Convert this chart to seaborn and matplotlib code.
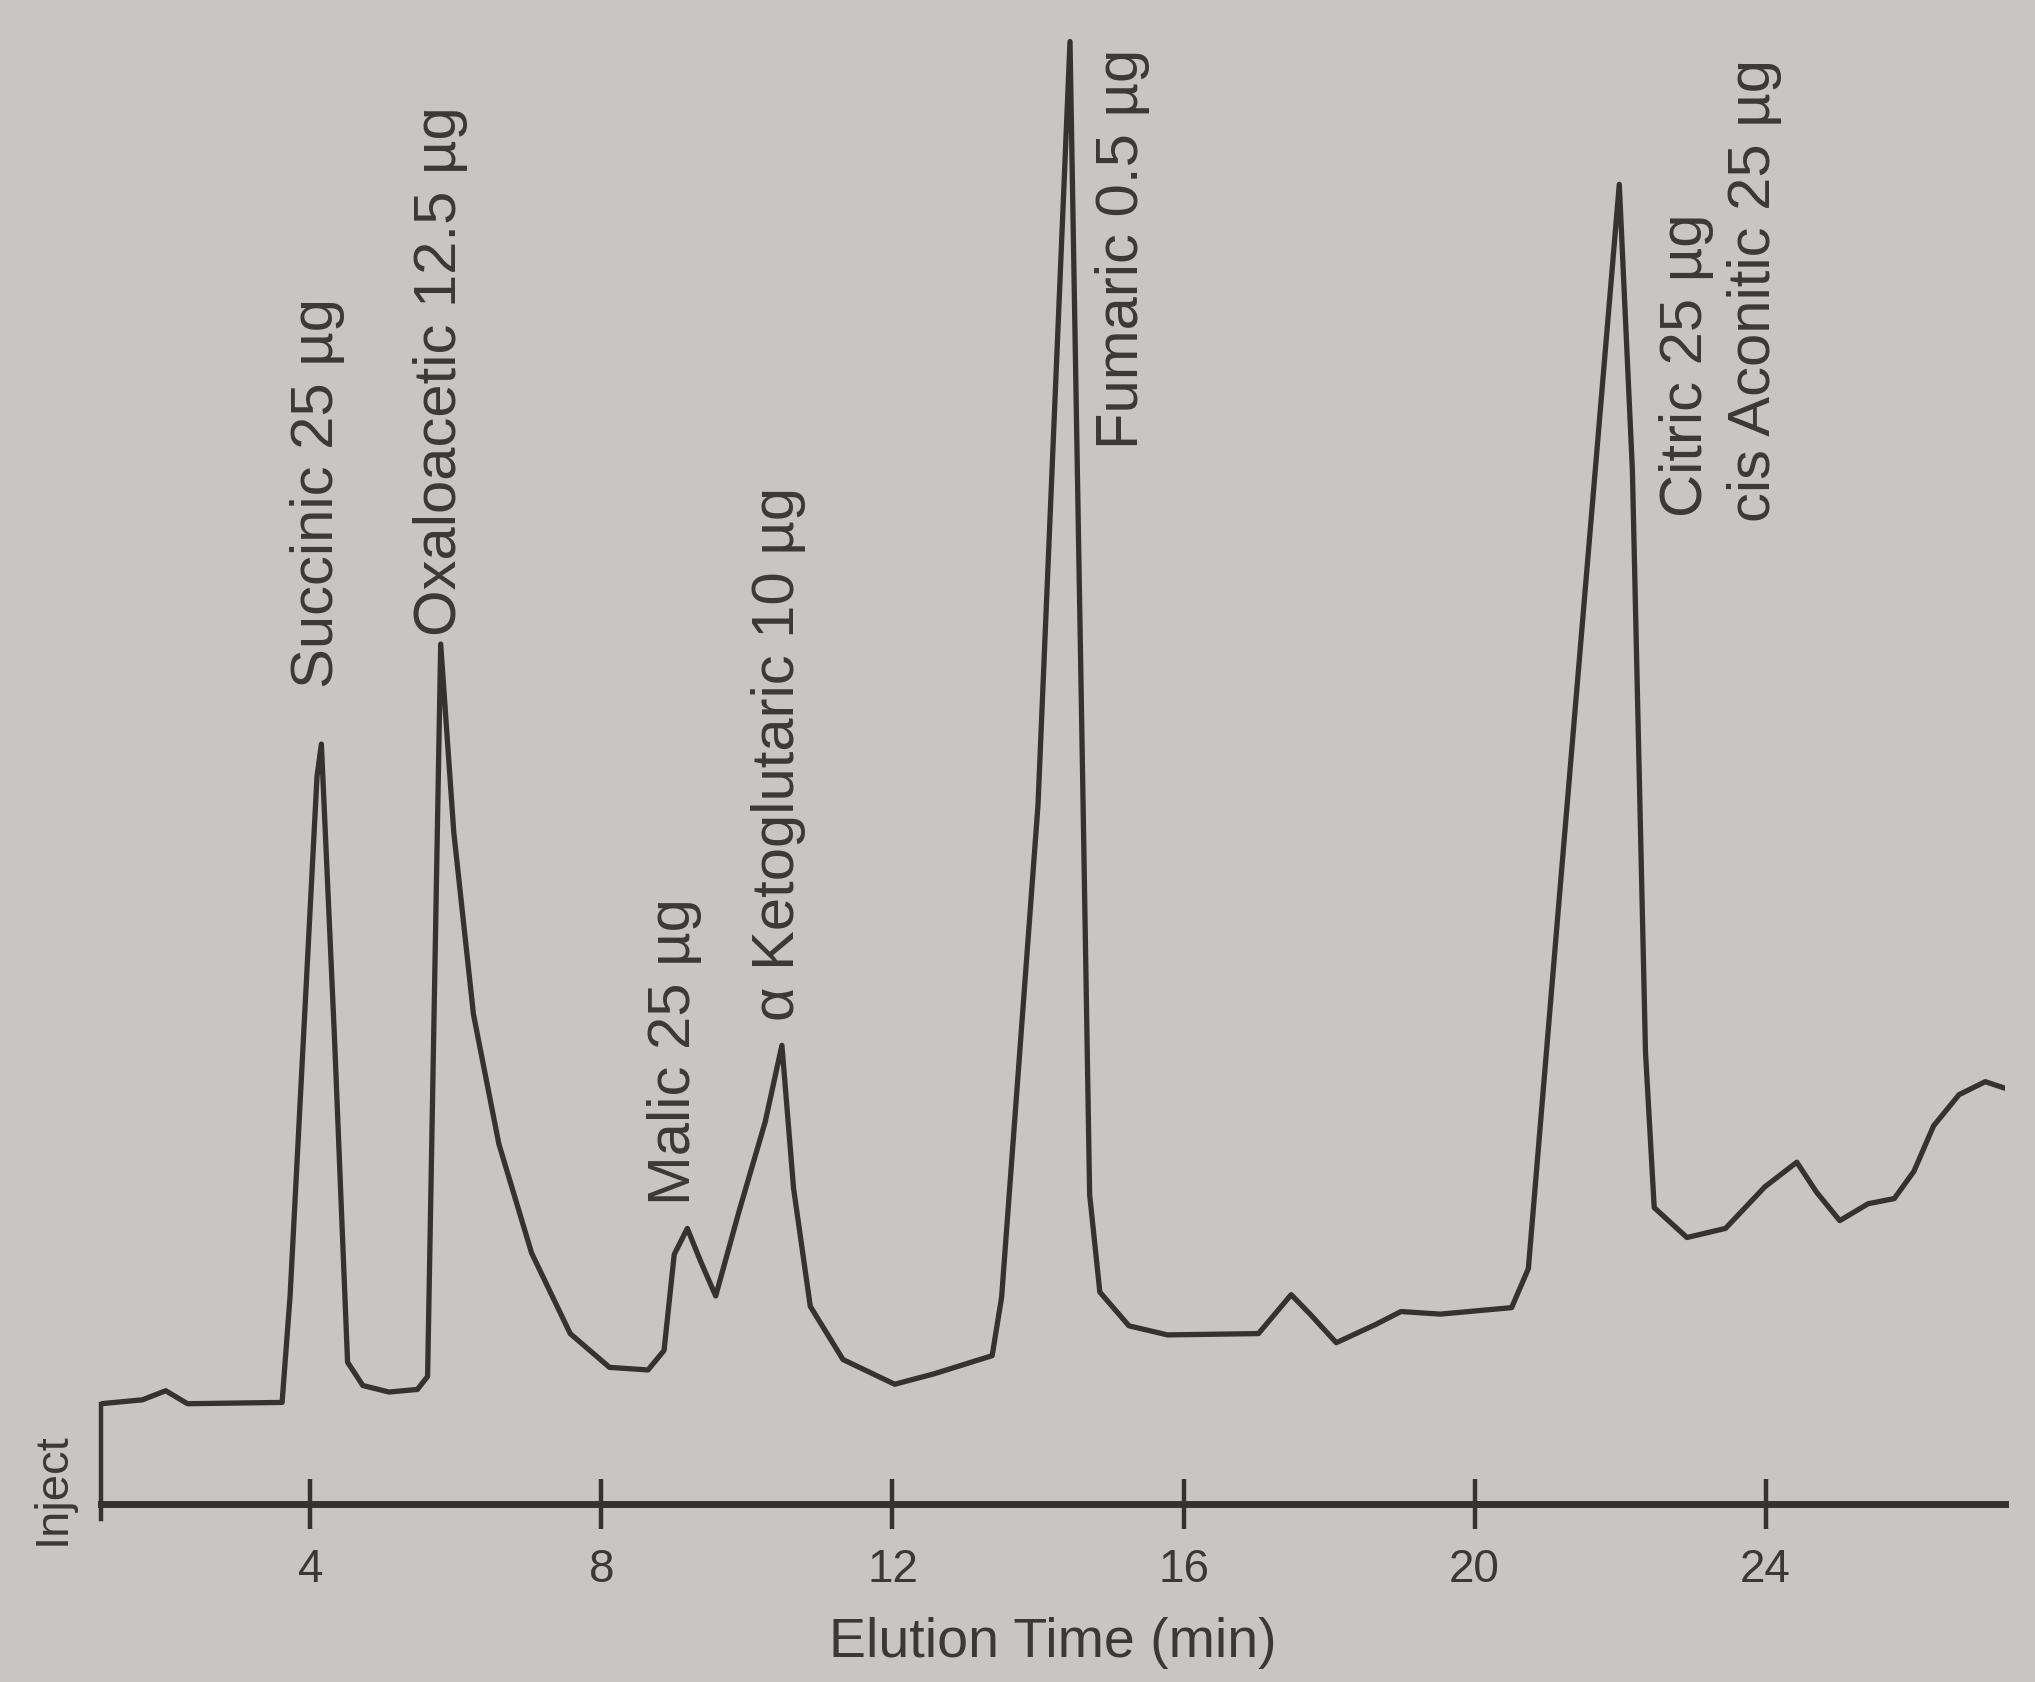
import numpy as np
import pandas as pd
import matplotlib
matplotlib.use("Agg")
import matplotlib.pyplot as plt
import matplotlib.transforms as mtransforms
import seaborn as sns

# ---- data ----
time_min = [1.12, 1.69, 2.01, 2.31, 3.61, 3.72, 4.09, 4.15, 4.33, 4.51, 4.72, 5.08,
            5.47, 5.61, 5.79, 5.97, 6.24, 6.59, 7.04, 7.57, 8.11, 8.64, 8.86, 9.00,
            9.18, 9.36, 9.57, 9.89, 10.25, 10.48, 10.64, 10.87, 11.32, 12.03, 12.57,
            13.37, 13.50, 14.00, 14.44, 14.62, 14.71, 14.85, 15.25, 15.78, 17.03,
            17.48, 17.74, 18.10, 18.64, 18.99, 19.53, 20.51, 20.74, 21.13, 21.99,
            22.17, 22.35, 22.47, 22.92, 23.45, 23.99, 24.43, 24.70, 25.02, 25.41,
            25.77, 26.04, 26.31, 26.66, 27.02, 27.29]
signal = [77, 80, 87, 77, 78, 160, 560, 585, 359, 109, 91, 86,
          88, 98, 662, 517, 377, 277, 193, 131, 105, 103, 118, 192,
          212, 187, 160, 225, 294, 353, 243, 152, 111, 92, 100,
          114, 159, 538, 1126, 538, 238, 163, 137, 130, 131,
          161, 146, 124, 138, 148, 146, 151, 181, 443, 1016,
          796, 348, 228, 205, 212, 244, 263, 240, 218, 231,
          235, 256, 291, 315, 325, 320]

peak_labels = ["Succinic 25 \u00b5g", "Oxaloacetic 12.5 \u00b5g", "Malic 25 \u00b5g",
               "\u03b1 Ketoglutaric 10 \u00b5g", "Fumaric 0.5 \u00b5g",
               "Citric 25 \u00b5g", "cis Aconitic 25 \u00b5g"]
label_t = [4.09, 5.79, 9.00, 10.43, 15.16, 22.92, 23.85]
label_s = [628, 668, 230, 372, 812, 760, 756]

tick_values = [4, 8, 12, 16, 20, 24]
baseline_start = 77

df = pd.DataFrame({"time": time_min, "signal": signal})

# ---- style ----
sns.set_theme(style="white")
plt.rcParams["font.family"] = ["Liberation Sans", "DejaVu Sans"]
bg = "#c9c5c2"
ink = "#363232"
txt = "#3c3838"

fig = plt.figure(figsize=(20.35, 16.82), dpi=100, facecolor=bg)
ax = fig.add_axes([0.0496, 0.106, 0.9356, 0.894])
ax.set_facecolor(bg)

sns.lineplot(data=df, x="time", y="signal", ax=ax, color=ink, linewidth=3.8,
             estimator=None, sort=False)

ax.set_xlim(1.12, 27.29)
ax.set_ylim(0, 1158)

for name, t, s in zip(peak_labels, label_t, label_s):
    ax.text(t, s, name, rotation=90, ha="center", va="bottom",
            fontsize=43, color=txt)

# axes: bottom spine with crossing ticks, short left "inject" bar
for side in ["top", "right"]:
    ax.spines[side].set_visible(False)
ax.spines["bottom"].set_color(ink)
ax.spines["bottom"].set_linewidth(5)
ax.spines["left"].set_color(ink)
ax.spines["left"].set_linewidth(3.2)
ax.spines["left"].set_bounds(-12, baseline_start)

ax.set_xticks(tick_values)
ax.set_xticklabels([str(v) for v in tick_values])
ax.tick_params(axis="x", bottom=True, direction="inout", length=36, width=3.2,
               color=ink, labelsize=33, labelcolor=txt, pad=14)
ax.set_yticks([])
ax.set_ylabel("")
ax.set_xlabel("Elution Time (min)", fontsize=40, color=txt, labelpad=18)

trans = mtransforms.blended_transform_factory(fig.transFigure, ax.transData)
ax.text(0.026, 12, "Inject", rotation=90, ha="center", va="center",
        fontsize=34, color=txt, transform=trans, clip_on=False)

fig.savefig("out.png", dpi=100, facecolor=bg)
